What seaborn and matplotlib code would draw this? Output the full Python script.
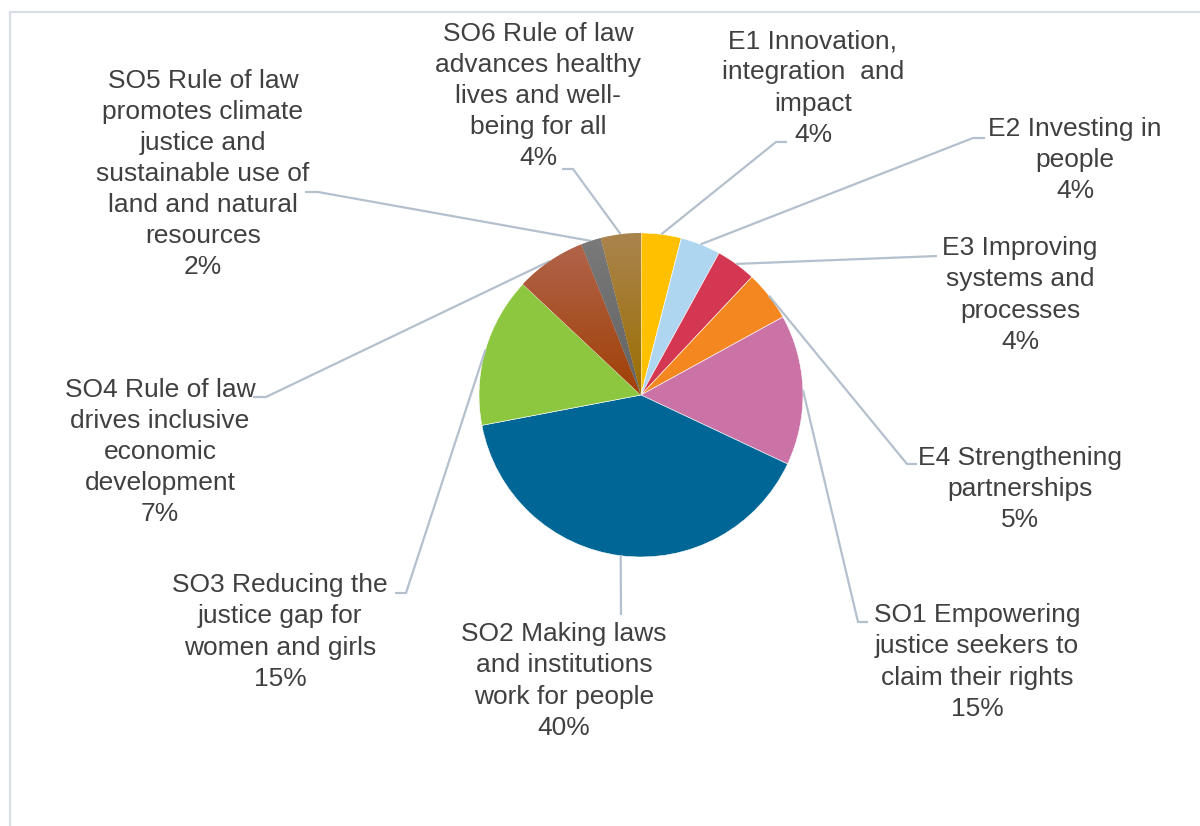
import numpy as np
import matplotlib
matplotlib.use("Agg")
import matplotlib.pyplot as plt
import seaborn as sns
from matplotlib.colors import LinearSegmentedColormap

sns.set_theme(style="white")
plt.rcParams['font.family'] = ['Liberation Sans', 'DejaVu Sans']

# ---- data ----
labels = [
    "E1 Innovation,\nintegration  and\nimpact",
    "E2 Investing in\npeople",
    "E3 Improving\nsystems and\nprocesses",
    "E4 Strengthening\npartnerships",
    "SO1 Empowering\njustice seekers to\nclaim their rights",
    "SO2 Making laws\nand institutions\nwork for people",
    "SO3 Reducing the\njustice gap for\nwomen and girls",
    "SO4 Rule of law\ndrives inclusive\neconomic\ndevelopment",
    "SO5 Rule of law\npromotes climate\njustice and\nsustainable use of\nland and natural\nresources",
    "SO6 Rule of law\nadvances healthy\nlives and well-\nbeing for all",
]
values = [4, 4, 4, 5, 15, 40, 15, 7, 2, 4]
colors = ["#FFC000", "#AED6F0", "#D33752", "#F58720", "#CB73A6",
          "#006695", "#8DC63F", "#A5481C", "#6E6E6E", "#A07A22"]
# gradient (top, bottom) colors for the brownish slices
gradients = {7: ("#B26650", "#A04004"), 8: ("#7A7A7A", "#636363"), 9: ("#AA844E", "#9B6E00")}

# ---- layout (pixel coordinates, y down) ----
W, H = 1200, 826
cx, cy, R = 641, 395, 162
label_pos = [  # text block centre
    (813, 88), (1075, 160), (1020, 295), (1020, 489), (977, 662),
    (564, 681), (280, 632), (160, 452), (203, 174), (538, 96),
]
elbows = [  # (elbow point, end point) of leader lines
    ((776, 142), (787, 142)),
    ((973, 138), (985, 138)),
    ((937, 256), (937, 256)),
    ((907, 464), (917, 464)),
    ((858, 622), (868, 622)),
    ((621, 615), (621, 615)),
    ((406, 593), (395, 593)),
    ((266, 397), (253, 397)),
    ((318, 192), (305, 192)),
    ((573, 169), (562, 169)),
]

fig = plt.figure(figsize=(W / 100, H / 100), dpi=100)
ax = fig.add_axes([0, 0, 1, 1])

def fy(py):
    return H - py

wedges, _ = ax.pie(values, colors=colors, startangle=90, counterclock=False,
                   center=(cx, fy(cy)), radius=R, frame=True,
                   wedgeprops=dict(edgecolor="white", linewidth=0.4))
ax.set_xlim(0, W)
ax.set_ylim(0, H)
ax.set_aspect("equal")
ax.axis("off")

for i, (c1, c2) in gradients.items():
    w = wedges[i]
    cmap = LinearSegmentedColormap.from_list("g", [c2, c1])
    grad = np.linspace(0, 1, 256).reshape(-1, 1)
    im = ax.imshow(grad, cmap=cmap, origin="lower", aspect="auto",
                   extent=[cx - R, cx + R, fy(cy), fy(cy - R)], zorder=w.get_zorder() + 0.1)
    im.set_clip_path(w)

# leader lines and labels
total = sum(values)
cum = 0
line_col = "#B4C0CE"
for i, v in enumerate(values):
    mid = 90 - 360 * (cum + v / 2) / total
    cum += v
    sx = cx + R * np.cos(np.radians(mid))
    sy = cy - R * np.sin(np.radians(mid))
    (ex, ey), (tx, ty) = elbows[i]
    ax.plot([sx, ex, tx], [fy(sy), fy(ey), fy(ty)], color=line_col, lw=1.6,
            solid_capstyle="butt", zorder=1)
    lx, ly = label_pos[i]
    ax.text(lx, fy(ly), f"{labels[i]}\n{v}%", ha="center", va="center",
            fontsize=19.0, color="#404040", linespacing=1.375, zorder=5)

# chart frame
ax.plot([10, 10, W + 5], [-5, fy(12), fy(12)], color="#D9DEE6", lw=1.6, zorder=0)
ax.set_xlim(0, W)
ax.set_ylim(0, H)

fig.savefig("out.png", dpi=100, facecolor="white")
